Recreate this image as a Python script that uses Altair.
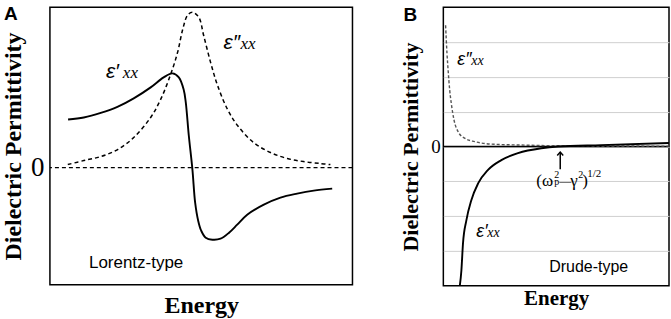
import altair as alt
import pandas as pd

# ---------------- Panel A : Lorentz-type (arbitrary units) ----------------
A_RE_E = [0.60, 1.12, 1.68, 2.23, 2.77, 3.33, 3.76, 4.05, 4.26, 4.42, 4.49, 4.59, 4.71,
          4.80, 4.90, 5.00, 5.15, 5.37, 5.64, 5.92, 6.19, 6.52, 7.07, 7.62, 8.17, 8.72, 9.33]
A_RE_V = [0.48, 0.50, 0.545, 0.605, 0.69, 0.80, 0.90, 0.94, 0.90, 0.78, 0.65, 0.32, -0.02,
          -0.35, -0.53, -0.63, -0.70, -0.72, -0.71, -0.65, -0.57, -0.47, -0.37, -0.30,
          -0.26, -0.23, -0.21]
A_IM_E = [0.59, 1.12, 1.68, 2.24, 2.77, 3.33, 3.66, 3.99, 4.22, 4.39, 4.55, 4.71, 4.92,
          5.08, 5.31, 5.54, 5.87, 6.20, 6.73, 7.29, 7.85, 8.38, 8.94, 9.27]
A_IM_V = [0.03, 0.07, 0.11, 0.18, 0.30, 0.50, 0.68, 0.93, 1.15, 1.38, 1.52, 1.55, 1.50,
          1.32, 1.05, 0.82, 0.58, 0.42, 0.25, 0.15, 0.09, 0.06, 0.04, 0.03]

# ---------------- Panel B : Drude-type (arbitrary units) ----------------
B_IM_E = [0.10, 0.16, 0.21, 0.28, 0.35, 0.47, 0.65, 0.94, 1.39, 2.12, 3.58, 5.22, 7.88, 10.0]
B_IM_V = [3.48, 2.69, 2.21, 1.63, 1.25, 0.77, 0.43, 0.24, 0.14, 0.07, 0.04, 0.02, 0.015, 0.01]
B_RE_E = [0.72, 0.80, 0.87, 1.02, 1.24, 1.54, 1.98, 2.57, 3.31, 4.34, 5.09, 6.99, 10.0]
B_RE_V = [-4.05, -3.56, -2.79, -2.12, -1.54, -1.06, -0.67, -0.39, -0.19, -0.05, 0.0, 0.04, 0.10]

# annotation anchors (energy, permittivity)
A_PANEL_AT = (-1.52, 1.47)
A_EPS_RE_AT = (1.85, 0.89)
A_EPS_IM_AT = (5.74, 1.18)
A_TYPE_AT = (1.29, -1.00)
B_PANEL_AT = (-1.77, 3.61)
B_EPS_IM_AT = (0.62, 2.35)
B_EPS_RE_AT = (1.46, -2.59)
B_TYPE_AT = (4.69, -3.59)
B_FORMULA_AT = (4.12, -1.14)
B_ARROW = (5.18, -0.65, -0.16)   # energy, tail, tip

SERIF = "Liberation Serif"
SANS = "Liberation Sans"


def pt(at, label=""):
    return pd.DataFrame({"energy": [at[0]], "eps": [at[1]], "label": [label]})


def text_layer(at, label, x, y, **style):
    return alt.Chart(pt(at, label)).mark_text(
        align="left", baseline="alphabetic", color="black", **style).encode(
        x=x, y=y, text="label:N")


def eps_label(at, sym, x, y, big, small, dx):
    return [text_layer(at, sym, x, y, font=SANS, fontStyle="italic", fontSize=big),
            text_layer(at, "xx", x, y, font=SERIF, fontStyle="italic", fontSize=small, dx=dx)]


# ---------------- Panel A ----------------
xA = alt.X("energy:Q", scale=alt.Scale(domain=[0, 10], nice=False, zero=False),
           axis=alt.Axis(title="Energy", labels=False, ticks=False, domain=False, grid=False,
                         titleFont=SERIF, titleFontSize=24, titleFontWeight="bold",
                         titleColor="black", titlePadding=9))
yA = alt.Y("eps:Q", scale=alt.Scale(domain=[-1.17, 1.6], nice=False, zero=False),
           axis=alt.Axis(title="Dielectric Permittivity", values=[0], ticks=False, domain=False,
                         grid=False, labelFont=SERIF, labelFontSize=27, labelColor="black",
                         labelPadding=6, titleFont=SERIF, titleFontSize=24,
                         titleFontWeight="bold", titleColor="black", titlePadding=5))

a_zero = alt.Chart(pd.DataFrame({"eps": [0]})).mark_rule(
    color="black", strokeDash=[4, 3], strokeWidth=1.2).encode(y=yA)
a_im = alt.Chart(pd.DataFrame({"energy": A_IM_E, "eps": A_IM_V})).mark_line(
    color="black", strokeDash=[4, 3], strokeWidth=1.5, interpolate="catmull-rom").encode(x=xA, y=yA)
a_re = alt.Chart(pd.DataFrame({"energy": A_RE_E, "eps": A_RE_V})).mark_line(
    color="black", strokeWidth=1.9, interpolate="catmull-rom").encode(x=xA, y=yA)

a_panel = text_layer(A_PANEL_AT, "A", xA, yA, font=SANS, fontSize=19, fontWeight="bold")
a_t_re = eps_label(A_EPS_RE_AT, "ε′", xA, yA, 21, 17, 17)
a_t_im = eps_label(A_EPS_IM_AT, "ε″", xA, yA, 21, 17, 17)
a_type = text_layer(A_TYPE_AT, "Lorentz-type", xA, yA, font=SANS, fontSize=17)

panelA = alt.layer(a_zero, a_im, a_re, a_panel, *a_t_re, *a_t_im, a_type).properties(
    width=303, height=278)

# ---------------- Panel B ----------------
xB = alt.X("energy:Q", scale=alt.Scale(domain=[0, 10], nice=False, zero=False),
           axis=alt.Axis(title="Energy", labels=False, ticks=False, domain=False, grid=False,
                         titleFont=SERIF, titleFontSize=21, titleFontWeight="bold",
                         titleColor="black", titlePadding=2))
yB = alt.Y("eps:Q", scale=alt.Scale(domain=[-4, 4], nice=False, zero=False),
           axis=alt.Axis(title="Dielectric Permittivity", values=[-3, -2, -1, 0, 1, 2, 3],
                         labelExpr="datum.value == 0 ? '0' : ''", ticks=False, domain=False,
                         grid=True, gridColor="#cfcfcf", gridWidth=1,
                         labelFont=SERIF, labelFontSize=19, labelColor="black", labelPadding=3,
                         titleFont=SERIF, titleFontSize=22, titleFontWeight="bold",
                         titleColor="black", titlePadding=8))

b_zero = alt.Chart(pd.DataFrame({"eps": [0]})).mark_rule(
    color="black", strokeWidth=1.6).encode(y=yB)
b_im = alt.Chart(pd.DataFrame({"energy": B_IM_E, "eps": B_IM_V})).mark_line(
    color="#555555", strokeDash=[3, 2], strokeWidth=1.4, interpolate="monotone",
    clip=True).encode(x=xB, y=yB)
b_re = alt.Chart(pd.DataFrame({"energy": B_RE_E, "eps": B_RE_V})).mark_line(
    color="black", strokeWidth=1.9, interpolate="monotone", clip=True).encode(x=xB, y=yB)

b_panel = text_layer(B_PANEL_AT, "B", xB, yB, font=SANS, fontSize=19, fontWeight="bold")
b_t_im = eps_label(B_EPS_IM_AT, "ε″", xB, yB, 18, 14, 14)
b_t_re = eps_label(B_EPS_RE_AT, "ε′", xB, yB, 18, 14, 11)
b_type = text_layer(B_TYPE_AT, "Drude-type", xB, yB, font=SANS, fontSize=16)

arrow_df = pd.DataFrame({"energy": [B_ARROW[0]], "eps": [B_ARROW[1]], "eps2": [B_ARROW[2]]})
b_shaft = alt.Chart(arrow_df).mark_rule(color="black", strokeWidth=1.5).encode(
    x=xB, y=yB, y2="eps2:Q")
b_head = alt.Chart(pd.DataFrame({"energy": [B_ARROW[0]], "eps": [B_ARROW[2]]})).mark_point(
    shape="M-1,1.1L0,0L1,1.1", filled=False, color="black", strokeWidth=1.5, size=36,
    opacity=1).encode(x=xB, y=yB)

# formula (ω_p^2 − γ^2)^(1/2) built from pieces: text, size, dx, dy
formula_parts = [("(ω", 17, 0, 0), ("2", 10, 18, -8), ("p", 10, 18, -1),
                 ("—", 12, 23, -1), ("γ", 17, 34, 0), ("2", 10, 42, -8),
                 (")", 17, 46, 0), ("1/2", 11, 51, -9)]
formula_layers = [text_layer(B_FORMULA_AT, t, xB, yB, font=SERIF, fontSize=fs, dx=ddx, dy=ddy)
                  for t, fs, ddx, ddy in formula_parts]

panelB = alt.layer(b_zero, b_im, b_re, b_panel, *b_t_im, *b_t_re, b_type, b_shaft, b_head,
                   *formula_layers).properties(width=226, height=279)

chart = alt.hconcat(panelA, panelB, spacing=44).properties(
    padding={"left": 0, "top": 4, "right": 0, "bottom": 0},
    background="white",
).configure_view(stroke="black", strokeWidth=1.5)

chart.save("out.html", embed_options={"renderer": "svg", "actions": False})
